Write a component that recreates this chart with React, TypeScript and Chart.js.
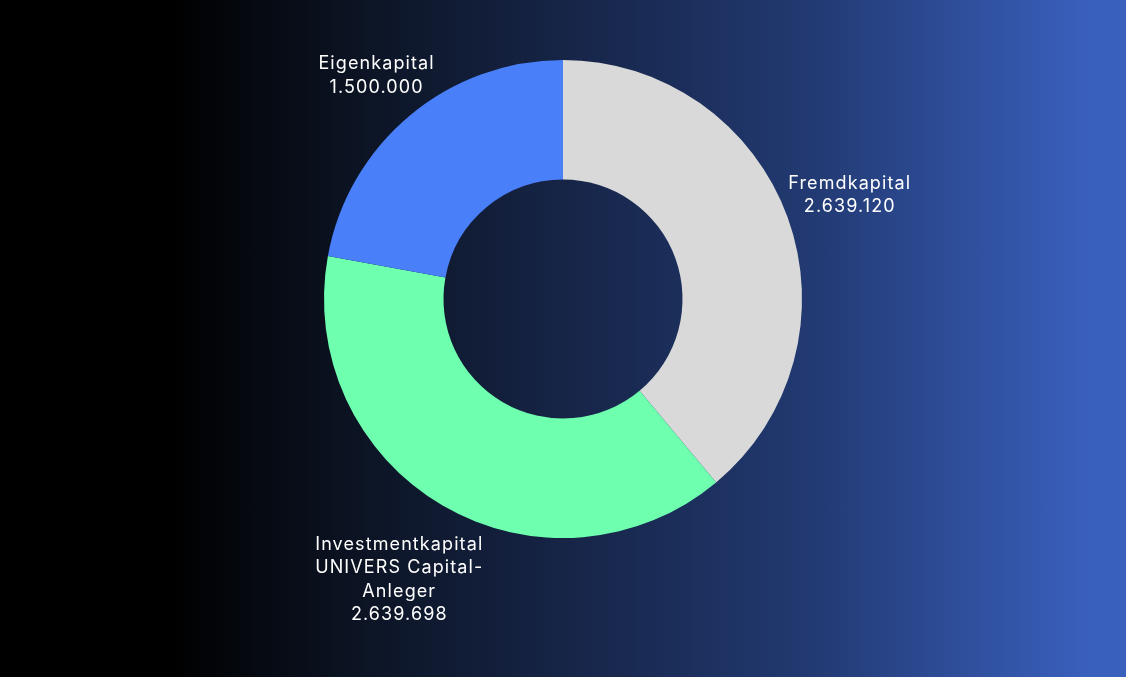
import React, { useEffect, useRef } from "react";
import { Chart, registerables } from "chart.js";

Chart.register(...registerables);

const categories: string[][] = [
  ["Fremdkapital"],
  ["Investmentkapital", "UNIVERS Capital-", "Anleger"],
  ["Eigenkapital"],
];
const values: number[] = [2639120, 2639698, 1500000];
const valueLabels: string[] = ["2.639.120", "2.639.698", "1.500.000"];
const colors: string[] = ["#d9d9d9", "#6effaf", "#4a7ffa"];
// extra radial distance of each label's centre beyond the outer ring
const labelGap: number[] = [66, 86, 52];

const outsideLabels = {
  id: "outsideLabels",
  afterDatasetsDraw(chart: any) {
    const ctx = chart.ctx;
    const meta = chart.getDatasetMeta(0);
    ctx.save();
    ctx.fillStyle = "#ffffff";
    ctx.font = "18px Inter, 'Noto Sans', sans-serif";
    (ctx as any).letterSpacing = "1.1px";
    ctx.textAlign = "center";
    ctx.textBaseline = "middle";
    const lh = 23.5;
    meta.data.forEach((arc: any, i: number) => {
      const p = arc.getProps(["x", "y", "startAngle", "endAngle", "outerRadius"], true);
      const mid = (p.startAngle + p.endAngle) / 2;
      const r = p.outerRadius + labelGap[i];
      const cx = p.x + Math.cos(mid) * r;
      const cy = p.y + Math.sin(mid) * r;
      const lines = [...categories[i], valueLabels[i]];
      const top = cy - ((lines.length - 1) * lh) / 2;
      lines.forEach((t, k) => ctx.fillText(t, cx, top + k * lh));
    });
    ctx.restore();
  },
};

export default function App() {
  const ref = useRef<HTMLCanvasElement | null>(null);
  useEffect(() => {
    document.body.style.margin = "0";
    const chart = new Chart(ref.current!, {
      type: "doughnut",
      data: {
        labels: categories.map((c) => c.join(" ")),
        datasets: [
          {
            data: values,
            backgroundColor: colors,
            borderWidth: 0,
          },
        ],
      },
      options: {
        animation: false,
        responsive: true,
        maintainAspectRatio: false,
        cutout: "50%",
        layout: { padding: { top: 60, bottom: 139 } },
        plugins: {
          legend: { display: false },
          tooltip: { enabled: false },
        },
      },
      plugins: [outsideLabels],
    });
    return () => chart.destroy();
  }, []);
  return (
    <div
      style={{
        position: "fixed",
        inset: 0,
        background:
          "linear-gradient(90deg, #000000 15%, #0c1424 32%, #17264a 52%, #223a72 72%, #3a60be 97%)",
      }}
    >
      <canvas ref={ref} />
    </div>
  );
}
